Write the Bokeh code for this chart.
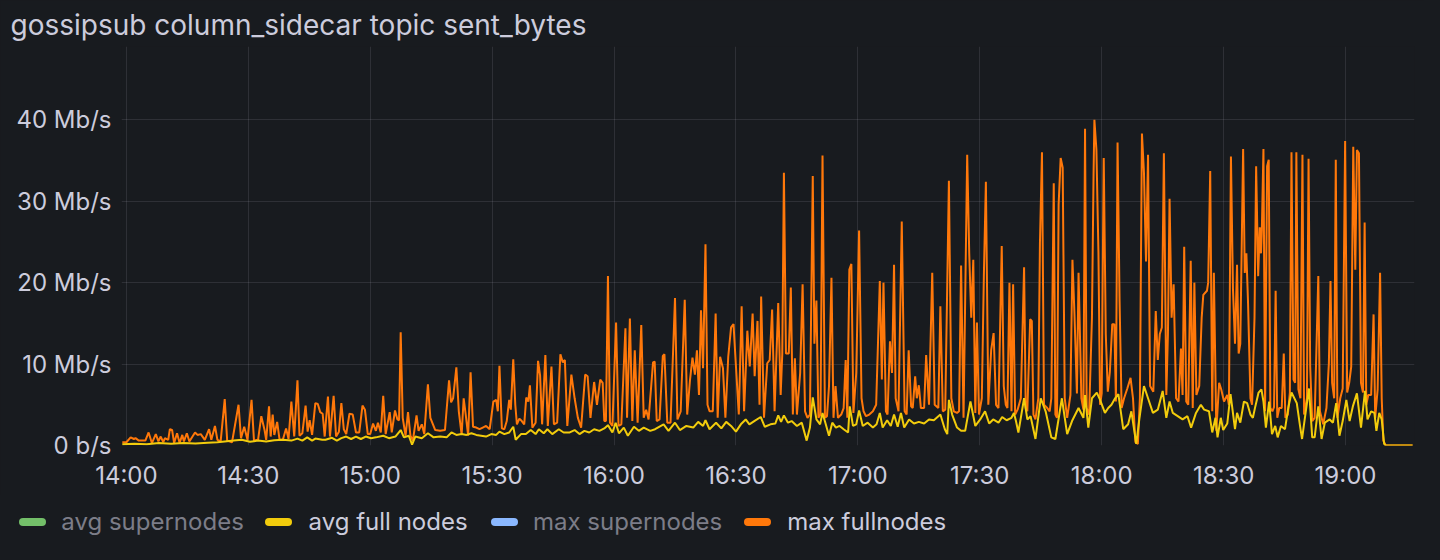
from bokeh.plotting import figure
from bokeh.models import FixedTicker, Div
from bokeh.layouts import column
from bokeh.embed import file_html
from bokeh.resources import INLINE

TITLE = "gossipsub column_sidecar topic sent_bytes"

# x axis: minutes after 14:00
x_tick_minutes = [0, 30, 60, 90, 120, 150, 180, 210, 240, 270, 300]
x_tick_labels = ["14:00", "14:30", "15:00", "15:30", "16:00", "16:30",
                 "17:00", "17:30", "18:00", "18:30", "19:00"]
y_ticks = [0, 10, 20, 30, 40]
y_tick_labels = ["0 b/s", "10 Mb/s", "20 Mb/s", "30 Mb/s", "40 Mb/s"]

series_names = ["avg supernodes", "avg full nodes", "max supernodes", "max fullnodes"]
series_colors = ["#73bf69", "#f2cc0c", "#8ab8ff", "#ff780a"]
series_visible = [False, True, False, True]

# max fullnodes (Mb/s) at minute offsets from 14:00
max_full_t = [
    -1.0, 0.0, 1.05, 1.85, 2.25, 3.06, 4.67, 5.47, 6.28, 7.24, 7.88, 8.45, 9.09, 9.49, 10.3, 10.7,
    11.26, 11.75, 12.47, 13.1, 13.76, 14.16, 14.88, 15.5, 16.9, 17.5, 18.3, 19.3, 20.35, 20.9, 21.8,
    22.4, 23.2, 24.2, 24.8, 26.0, 27.6, 28.2, 29.0, 29.8, 30.8, 31.4, 32.4, 33.2, 34.0, 34.4, 35.1,
    35.5, 36.0, 36.4, 37.1, 37.7, 38.5, 39.3, 39.9, 40.6, 41.3, 42.1, 42.6, 43.3, 44.1, 44.6, 45.1,
    45.7, 46.5, 47.1, 47.7, 48.3, 48.8, 49.6, 50.1, 51.0, 51.6, 52.3, 52.9,
    53.5, 54.1, 54.9, 55.7, 56.5, 57.3, 58.1, 58.7, 59.4, 60.0, 60.7, 61.4, 61.9, 62.6, 63.2, 63.8,
    64.8, 65.3, 66.1, 66.7, 67.1, 67.5, 68.0, 68.7, 69.3, 69.9, 70.5, 71.4, 71.9, 72.7, 73.3, 74.2,
    74.8, 76.0, 77.2, 78.4, 79.4, 79.9, 80.4, 81.2, 81.8, 82.5, 83.0, 83.5, 84.1, 84.7, 85.3, 86.1,
    86.9, 87.7, 88.5, 89.4, 90.3, 91.0, 91.4, 91.8, 92.4, 93.0, 93.6, 94.2, 94.6, 95.2, 95.7, 96.1,
    96.7, 97.3, 97.9, 98.4, 98.9, 99.3, 99.9, 100.7, 101.3, 101.8, 102.3, 103.1, 103.7, 104.6, 105.2,
    106.0, 106.8, 107.4, 107.9,
    108.5, 109.5, 110.3, 111.1, 111.9, 112.9, 113.5, 114.2, 115.1, 115.8, 116.6, 117.2, 117.6, 118.0,
    118.5, 119.0, 119.6, 120.5, 121.1, 121.8, 122.8, 123.2, 123.9, 124.5, 125.1, 125.8, 126.7, 127.3,
    127.9, 128.5, 129.6, 130.0, 130.5, 131.2, 132.0, 132.4, 133.1, 133.9, 135.0, 135.6, 136.4, 137.4,
    138.0, 138.7, 139.3, 139.9, 140.4, 140.9, 141.4, 141.9, 142.5, 143.0, 143.5, 144.3, 145.0, 145.5,
    146.1, 146.8, 147.4, 148.1, 148.8, 149.4, 150.0, 150.7, 151.4, 152.0, 152.8, 153.4, 154.1, 154.6,
    155.3, 155.8, 156.2, 156.9, 157.7, 158.3, 158.9, 159.5, 160.4, 161.0, 161.4, 161.8, 162.3, 163.0,
    163.5, 164.0, 164.5, 165.0, 165.8, 166.4, 167.0, 167.6, 168.2, 168.9, 169.3, 169.8, 170.3, 170.8,
    171.3, 171.9, 172.4, 172.9, 173.5, 174.0, 174.5, 175.1, 175.9, 176.5, 177.0, 177.4, 177.9, 178.4,
    178.9, 179.6, 180.3, 180.9, 181.4, 182.0, 182.8, 183.7, 184.5, 185.4, 185.9, 186.3, 186.9, 187.3,
    187.9, 188.4, 188.9, 189.3, 190.0, 190.8, 191.5, 192.0, 192.5, 193.1, 193.5, 194.1, 194.5, 195.0,
    195.5, 196.3, 196.8, 197.5, 198.3, 198.9, 199.8, 200.3, 200.9, 201.5, 202.4, 203.0, 203.6, 204.4,
    204.9, 205.4, 206.0, 206.9, 207.4, 207.9, 208.4, 208.9, 209.3, 209.8, 210.5, 211.0, 211.5, 212.1,
    212.8, 213.4, 214.0, 214.6, 215.4, 215.9, 216.4, 216.8, 217.3, 217.8,
    218.2, 218.7, 219.3, 220.1, 220.9, 221.3, 221.7, 222.4, 222.8, 223.2, 223.7, 224.4, 224.8, 225.3,
    225.8, 226.6, 227.2, 227.6, 228.2, 228.6, 229.0, 229.4, 229.9, 230.4, 230.9, 231.5, 232.3, 232.8,
    233.3, 233.9, 234.3, 235.0, 235.5, 235.9, 236.3, 236.9, 237.6, 238.0, 238.2, 238.7, 239.2, 239.6,
    240.0, 240.5, 241.0, 241.5, 242.0, 242.6, 243.1, 243.5, 243.9, 244.4, 244.9, 245.5, 246.3, 247.1,
    247.7, 248.3, 248.9, 249.4, 249.9, 250.4, 250.9, 251.4, 251.9, 252.7, 253.3, 253.8, 254.3, 254.8,
    255.3, 255.9, 256.3, 256.7, 257.2, 257.7, 258.3, 258.9, 259.5, 259.9, 260.3, 260.8, 261.3, 261.9,
    262.4, 262.8, 263.3, 264.0, 264.6, 265.0, 265.9, 266.2, 266.7, 267.2, 267.6, 268.2, 268.9, 269.4,
    270.1,
    270.9, 271.3, 271.8, 272.3, 272.8, 273.3, 273.7, 274.1, 274.8, 275.2, 275.6, 276.0, 276.6, 277.0,
    277.6, 278.0, 278.5, 278.9, 279.2, 279.4, 279.8, 280.2, 280.7, 281.1, 281.5, 282.0, 282.4, 282.8,
    283.2, 283.7, 284.3, 284.8, 285.2, 285.8, 286.3, 286.7, 287.2, 287.6, 287.9, 288.4, 288.9, 289.4,
    289.8, 290.5, 290.9, 291.3, 291.8, 292.4, 293.3, 293.7, 294.5, 295.3, 295.9, 296.3, 296.7, 297.2,
    297.6, 298.0, 298.7, 299.3, 299.9, 300.4, 300.9, 301.4, 301.9, 302.4, 302.8, 303.3, 303.8, 304.3,
    304.7, 305.1, 305.6, 306.3, 306.9, 307.3, 307.9, 308.5, 308.9, 309.3, 309.9, 316.5,
]
max_full_v = [
    0.4, 0.4, 1.0, 0.8, 0.9, 0.6, 0.6, 1.6, 0.3, 1.4, 0.5, 1.1, 0.4, 0.9, 0.7, 2.0,
    1.9, 0.3, 1.5, 0.3, 1.3, 0.5, 1.5, 0.5, 1.6, 1.3, 1.4, 0.7, 2.0, 0.7, 2.4,
    0.7, 0.5, 5.7, 0.6, 0.4, 5.0, 0.9, 2.3, 0.7, 5.6, 0.6, 0.7, 3.6, 1.9, 0.7, 4.8,
    1.1, 3.8, 1.3, 2.9, 0.7, 0.7, 2.1, 0.8, 5.4, 1.1, 8.0, 1.2, 1.5, 4.9, 1.7, 3.1,
    1.3, 5.2, 5.1, 4.1, 3.9, 1.1, 6.0, 1.1, 6.1, 1.1, 1.7, 5.2,
    2.0, 1.4, 3.9, 3.8, 1.6, 1.6, 4.9, 4.4, 1.4, 1.4, 2.7, 1.8, 2.8, 1.6, 6.1, 1.4,
    4.1, 1.6, 4.3, 3.2, 3.1, 13.9, 3.4, 1.2, 4.1, 1.2, 0.6, 3.7, 1.8, 2.6, 1.4, 7.5,
    3.4, 1.9, 1.8, 1.9, 8.0, 5.3, 5.8, 9.6, 4.2, 1.3, 5.8, 3.8, 1.2, 9.0, 2.3, 2.2,
    2.0, 2.2, 2.4, 2.0, 5.4, 5.6, 4.2, 9.8, 2.1, 2.0, 3.0, 5.6, 4.4, 10.6, 5.0, 2.6,
    3.3, 3.0, 2.6, 5.9, 5.4, 7.4, 2.2, 2.8, 10.4, 8.6, 2.6, 11.1, 2.4, 9.7, 2.6,
    2.8, 11.2, 10.2, 10.5,
    2.4, 8.7, 5.8, 3.4, 2.2, 8.7, 8.5, 3.4, 7.8, 5.0, 8.1, 7.7, 3.0, 3.0,
    20.8, 2.8, 2.4, 15.1, 2.4, 2.6, 14.4, 3.4, 15.6, 3.0, 11.7, 2.8, 14.8, 3.4,
    4.4, 3.2, 10.2, 10.3, 3.0, 3.2, 11.0, 11.2, 2.8, 2.8, 18.1, 3.2, 4.2, 17.9,
    3.8, 8.1, 10.8, 8.7, 11.7, 6.2, 16.6, 9.5, 24.7, 5.0, 4.2, 4.2, 16.2, 3.4,
    10.9, 9.5, 3.4, 10.9, 14.5, 14.9, 9.7, 3.8, 17.1, 4.2, 14.1, 9.7, 16.2, 8.5,
    15.3, 5.0, 18.3, 3.4, 10.1, 10.5, 16.7, 4.2, 17.5, 6.2, 11.3, 33.5, 11.3, 11.3,
    19.4, 3.8, 10.7, 3.8, 8.9, 19.8, 4.2, 3.4, 3.8, 33.1, 12.5, 17.8, 3.4, 3.8,
    35.6, 3.4, 3.6, 7.3, 20.6, 3.4, 7.3, 3.4, 3.8, 4.6, 10.5, 3.4, 21.6, 22.3,
    4.0, 8.9, 26.4, 5.8, 4.2, 3.6, 3.8, 4.2, 5.0, 20.2, 8.1, 20.0, 4.2, 3.8,
    12.8, 8.9, 22.2, 5.8, 4.2, 27.5, 4.2, 3.8, 11.7, 4.8, 4.6, 8.5, 5.8, 7.4,
    4.6, 4.6, 11.1, 5.0, 21.2, 5.0, 4.6, 17.1, 4.2, 4.4, 32.5, 5.8, 4.2, 4.0,
    4.2, 22.1, 3.4, 35.7, 23.6, 15.7, 22.8, 4.0, 15.1, 3.8, 5.8, 20.8, 32.4, 5.0,
    11.7, 13.8, 5.0, 4.6, 24.5, 7.3, 5.0, 4.6, 20.0, 4.2,
    19.8, 3.8, 4.4, 5.8, 21.9, 4.6, 4.2, 15.5, 15.3, 3.8, 3.2, 5.8, 24.8, 36.0,
    5.0, 4.6, 4.2, 5.8, 32.2, 3.8, 3.4, 29.6, 35.3, 34.1, 5.8, 3.4, 6.2, 22.8,
    16.1, 6.4, 21.2, 5.8, 4.4, 38.9, 4.6, 3.8, 15.7, 33.5, 40.0, 36.3, 23.6, 5.0,
    6.4, 35.3, 13.7, 6.6, 9.0, 14.9, 14.9, 5.4, 37.2, 17.7, 4.6, 5.8, 7.0, 8.3,
    5.8, 0.4, 0.2, 5.8, 38.3, 33.5, 22.6, 35.7, 7.3, 6.6, 16.5, 10.5, 13.7, 14.5,
    35.9, 6.2, 13.7, 30.3, 15.7, 19.8, 5.8, 5.4, 11.9, 6.2, 24.4, 5.4, 5.0, 22.7,
    4.6, 20.0, 6.2, 7.3, 15.7, 18.5, 19.0, 20.0, 33.7, 4.2, 21.2, 1.8, 7.7, 6.9,
    5.4,
    6.2, 5.0, 35.5, 19.2, 12.5, 22.2, 11.3, 12.5, 36.4, 21.2, 23.6, 17.7, 5.8, 5.0,
    15.7, 34.3, 20.8, 26.8, 23.6, 26.4, 36.4, 4.2, 34.3, 35.1, 4.6, 4.2, 4.7, 19.0,
    3.4, 4.6, 4.6, 11.3, 3.4, 3.8, 6.5, 36.0, 8.1, 7.7, 36.0, 6.9, 5.8, 35.7,
    3.8, 5.8, 35.2, 9.7, 3.0, 3.4, 20.8, 4.2, 2.6, 4.6, 10.1, 20.2, 7.7, 5.8,
    35.1, 3.4, 5.8, 7.0, 37.4, 6.5, 7.7, 9.7, 36.7, 21.6, 36.3, 35.9, 7.7, 6.5,
    27.4, 5.0, 6.2, 6.2, 16.1, 3.4, 6.9, 21.2, 5.8, 0.6, 0.0, 0.0,
]

# avg full nodes (Mb/s) at minute offsets from 14:00
avg_full_t = [
    -1.0, 2.0, 5.0, 8.0, 11.0, 14.0, 17.0, 20.0, 22.4, 24.2, 26.4, 28.4, 30.4, 32.4, 34.4, 36.4,
    38.5, 40.6, 42.1, 43.3, 44.5, 45.7, 46.5, 48.2, 49.0, 50.6, 51.8,
    52.9, 54.1, 55.3, 56.5, 57.7, 58.9, 60.2, 61.4, 63.2, 64.6, 66.2, 67.5, 68.3, 69.5, 70.3, 71.1,
    72.7, 74.2, 75.6, 77.2, 78.8, 80.0, 81.2, 82.5, 83.7, 84.9, 86.1, 87.3, 88.5, 89.8, 91.0, 91.8,
    93.0, 94.2, 95.2, 95.8, 97.1, 98.3, 99.5, 100.7, 101.5, 102.7, 103.6, 104.8, 106.4, 107.6,
    109.1, 110.3, 111.5, 112.7, 113.9, 115.1, 116.4, 117.6, 118.5, 119.6, 120.4, 121.2, 122.4, 123.4,
    124.9, 126.1, 127.3, 128.9, 130.1, 132.2, 133.4, 135.0, 136.2, 137.8, 139.5, 140.7, 141.9, 142.5,
    143.5, 145.1, 146.4, 147.6, 148.8, 150.0, 151.2, 152.4, 153.3, 154.5, 156.1, 157.1, 158.5, 159.7,
    160.4, 161.1, 161.8,
    162.8, 163.7, 165.0, 166.2, 167.4, 168.2, 168.9, 169.8, 170.7, 171.3, 172.1, 172.9, 173.7, 174.6,
    175.5, 176.5, 177.6, 178.0, 178.8, 179.6, 180.3, 181.2, 182.4, 183.7, 184.6, 185.4, 186.1, 187.2,
    188.1, 188.9, 189.8, 190.6, 191.4, 192.6, 193.8, 195.0, 196.3, 197.5, 198.7, 200.3, 201.4, 202.0,
    202.4, 203.2, 204.4, 205.4, 206.4, 207.7, 208.9, 210.1, 211.3, 212.3, 213.3, 214.6, 215.5, 216.6,
    217.8,
    218.4, 218.9, 219.5, 220.9, 221.7, 222.5, 223.7, 225.0, 226.2, 227.6, 228.6, 230.2, 231.5, 232.7,
    234.3, 235.5, 235.9, 236.7, 237.6, 238.8, 239.6, 240.8, 241.6, 242.4, 243.3, 244.1, 245.3, 246.5,
    247.3, 248.5, 249.3, 250.4, 251.4, 252.6, 253.8, 255.0, 255.9, 256.7, 257.5, 258.7, 259.9, 261.1,
    262.0, 263.2, 264.4, 265.2, 266.4, 267.2, 268.0, 268.5, 269.3, 269.9,
    270.9, 271.7, 272.8, 273.3, 274.1, 275.0, 275.8, 276.6, 277.2, 277.8, 278.6, 279.3, 279.8, 280.4,
    281.2, 281.9, 282.7, 283.3, 284.1, 285.1, 285.9, 286.7, 288.0, 288.8, 289.3, 290.0, 291.0, 291.8,
    292.4, 293.3, 294.1, 294.9, 296.1, 296.9, 297.7, 298.5, 299.3, 300.2, 301.0, 301.8, 302.8, 303.8,
    304.8, 305.4, 306.3, 307.1, 307.6, 308.3, 308.9, 309.5, 309.9, 316.5,
]
avg_full_v = [
    0.15, 0.2, 0.15, 0.3, 0.2, 0.3, 0.25, 0.35, 0.4, 0.5, 0.6, 0.7, 0.45, 0.6, 0.5, 0.65,
    0.7, 0.6, 0.85, 0.6, 1.0, 0.6, 0.85, 0.7, 0.7, 0.95, 0.6,
    0.9, 1.1, 0.8, 1.1, 0.8, 1.1, 0.9, 1.0, 1.2, 0.9, 1.1, 1.9, 1.0, 1.2, 0.1, 1.1,
    0.9, 1.5, 1.0, 1.1, 1.0, 1.6, 1.3, 1.4, 1.3, 1.5, 1.3, 1.2, 1.1, 1.4, 1.3, 1.7,
    1.4, 1.6, 2.3, 0.7, 1.4, 1.4, 1.9, 1.4, 2.0, 1.5, 2.0, 1.4, 2.0, 1.6,
    1.6, 1.9, 1.4, 1.8, 1.6, 2.0, 1.8, 2.1, 2.5, 1.6, 2.8, 1.5, 2.2, 1.2,
    2.3, 1.8, 2.2, 1.8, 2.0, 2.6, 1.8, 2.8, 1.9, 2.4, 2.2, 2.9, 2.4, 3.1,
    2.0, 2.8, 2.1, 2.9, 2.4, 1.7, 2.6, 3.2, 2.6, 3.0, 3.5, 2.3, 2.6, 2.7,
    3.7, 2.9, 3.7,
    2.8, 3.0, 2.4, 2.8, 0.6, 2.2, 5.9, 3.2, 2.6, 4.0, 2.6, 1.2, 2.8, 2.2,
    2.4, 2.0, 1.6, 4.8, 2.4, 2.6, 4.3, 2.4, 2.8, 2.2, 2.6, 4.0, 2.2, 3.1,
    2.4, 3.8, 2.3, 4.0, 2.2, 3.2, 2.7, 2.9, 2.7, 3.2, 3.1, 3.8, 2.0, 1.4,
    5.6, 3.8, 2.2, 1.8, 1.8, 5.4, 2.4, 3.2, 4.2, 2.7, 3.2, 2.8, 3.5, 3.1,
    3.4,
    4.0, 3.0, 1.6, 5.8, 3.2, 3.6, 0.8, 5.8, 4.2, 1.0, 0.8, 5.8, 1.4, 3.0,
    4.6, 3.4, 6.2, 2.2, 5.8, 6.5, 5.6, 4.0, 4.6, 5.0, 5.8, 6.3, 2.0, 2.6,
    4.2, 0.2, 3.4, 7.3, 5.8, 4.0, 4.4, 6.7, 3.4, 5.4, 4.0, 3.6, 3.2, 3.6,
    2.2, 4.0, 5.0, 4.4, 4.2, 1.6, 3.4, 1.0, 3.4, 1.9,
    2.7, 6.3, 2.0, 4.0, 2.8, 5.4, 5.2, 3.8, 3.4, 4.8, 6.5, 6.9, 5.4, 2.2,
    5.4, 1.4, 2.4, 1.0, 2.4, 2.0, 4.6, 6.5, 5.2, 2.4, 0.8, 3.4, 7.0, 1.0,
    1.0, 4.8, 0.8, 2.8, 3.2, 2.8, 5.2, 1.2, 3.0, 5.6, 3.0, 4.8, 6.4, 2.2,
    6.7, 3.2, 4.2, 4.0, 1.8, 4.0, 3.2, 0.2, 0.0, 0.0,
]

BG = "#181b1f"
TEXT = "#ccccdc"
DIM = "#7c7d88"
FONT = "Inter"
W = 1424

# ---------------- main chart ----------------
# frame spans from just under the title down to the zero line; 40 Mb/s sits where the reference has it
p = figure(width=W, height=495, output_backend="svg", toolbar_location=None, tools="",
           x_range=(-1.2, 316.97), y_range=(0, 49.0),
           background_fill_color=BG, border_fill_color=BG,
           min_border_left=121, min_border_right=10, min_border_top=45, min_border_bottom=50,
           styles={"background-color": BG})
p.outline_line_color = None
p.outline_line_alpha = 0

p.line(max_full_t, max_full_v, line_color=series_colors[3], line_width=2)
p.line(avg_full_t, avg_full_v, line_color=series_colors[1], line_width=2)

for ax in (p.xaxis[0], p.yaxis[0]):
    ax.axis_line_color = None
    ax.major_tick_line_color = None
    ax.minor_tick_line_color = None
    ax.major_tick_out = 0
    ax.major_tick_in = 0
    ax.minor_tick_out = 0
    ax.minor_tick_in = 0
    ax.major_label_text_color = TEXT
    ax.major_label_text_font = FONT
    ax.major_label_text_font_size = "24px"

p.xaxis.ticker = FixedTicker(ticks=x_tick_minutes)
p.xaxis.major_label_overrides = {t: l for t, l in zip(x_tick_minutes, x_tick_labels)}
p.xaxis.major_label_standoff = 15
p.yaxis.ticker = FixedTicker(ticks=y_ticks)
p.yaxis.major_label_overrides = {t: l for t, l in zip(y_ticks, y_tick_labels)}
p.yaxis.major_label_standoff = 10

p.xgrid.grid_line_color = TEXT
p.xgrid.grid_line_alpha = 0.12
p.ygrid.grid_line_color = TEXT
p.ygrid.grid_line_alpha = 0.12

p.title.text = TITLE
p.title.align = "left"
p.title.text_font = FONT
p.title.text_font_size = "28px"
p.title.text_font_style = "normal"
p.title.text_color = TEXT
p.title.offset = -111

# ---------------- legend row ----------------
pill_left = [18.8, 265.0, 490.5, 743.7]
text_left = [61.3, 308.6, 533.0, 787.2]
parts = []
for name, col, vis, pl, tl in zip(series_names, series_colors, series_visible, pill_left, text_left):
    parts.append(
        f'<span style="position:absolute;left:{pl}px;top:22.5px;width:27px;height:8.5px;'
        f'border-radius:4.25px;background:{col};"></span>'
        f'<span style="position:absolute;left:{tl}px;top:12px;line-height:29px;'
        f'color:{TEXT if vis else DIM};white-space:nowrap;">{name}</span>'
    )
legend_html = (
    f'<div style="position:relative;width:{W}px;height:49px;background:{BG};'
    f'font-family:Inter, sans-serif;font-size:24px;">' + "".join(parts) + "</div>"
)
legend_div = Div(text=legend_html, width=W, height=49, margin=(0, 0, 0, 0),
                 styles={"background-color": BG})

layout = column(p, legend_div, spacing=0, styles={"background-color": BG})

html = file_html(layout, INLINE)
# dark page background so no light seams show at the plot-frame edges
html = html.replace("<head>", "<head><style>html, body { background: #181b1f; }</style>", 1)
open("out.html", "w").write(html)
